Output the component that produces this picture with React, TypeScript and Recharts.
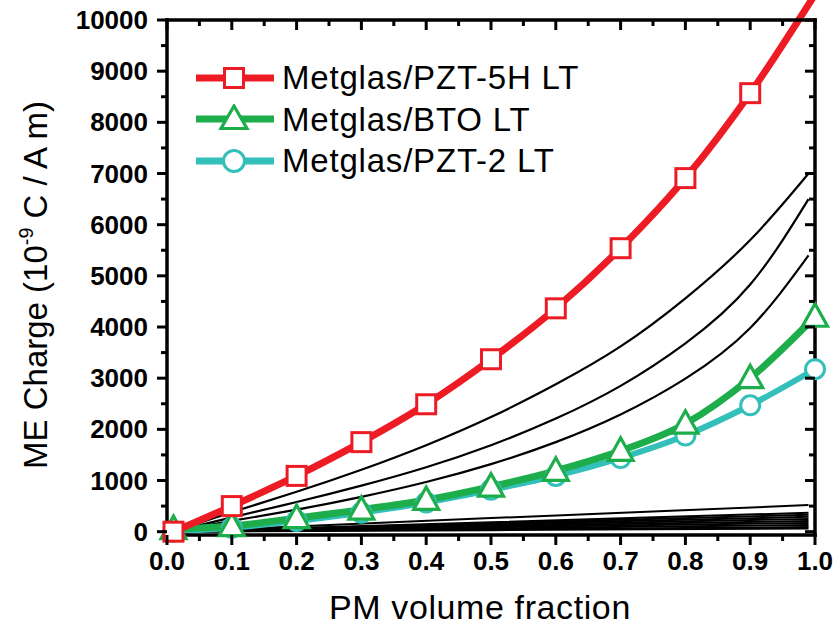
import React from "react";
import { LineChart, Line, XAxis, YAxis, Legend } from "recharts";

const FONT = "'Liberation Sans', Arial, sans-serif";
const RED = "#ED1C24";
const GREEN = "#1DAE4B";
const CYAN = "#33BFBA";

// marker positions (PM volume fraction)
const markerX = [0.01, 0.1, 0.2, 0.3, 0.4, 0.5, 0.6, 0.7, 0.8, 0.9, 1.0];
// last PZT-5H value runs off the top of the frame, no marker there
const pzt5hCharge = [0, 500, 1090, 1750, 2490, 3370, 4365, 5540, 6910, 8570, 10500];
const btoCharge = [50, 110, 265, 430, 620, 880, 1190, 1580, 2110, 3000, 4200];
const pzt2Charge = [0, 75, 210, 370, 570, 820, 1090, 1440, 1880, 2470, 3175];

// thin black curves
const curveX = [0.01, 0.1, 0.2, 0.3, 0.4, 0.5, 0.6, 0.7, 0.8, 0.9, 0.99];
const upperCurves = [
  [0, 380, 780, 1210, 1690, 2240, 2880, 3620, 4560, 5700, 7000],
  [0, 280, 580, 900, 1260, 1690, 2210, 2850, 3680, 4830, 6500],
  [0, 210, 430, 680, 970, 1320, 1750, 2290, 2990, 3980, 5400],
];
const bundleX = [0.01, 0.5, 0.99];
const lowerCurves = [
  [0, 265, 520],
  [0, 185, 370],
  [0, 165, 330],
  [0, 145, 290],
  [0, 125, 250],
  [0, 105, 210],
  [0, 85, 170],
  [0, 65, 130],
  [0, 45, 90],
  [0, 30, 60],
];

const xMajor = [0, 0.1, 0.2, 0.3, 0.4, 0.5, 0.6, 0.7, 0.8, 0.9, 1.0];
const xMinor = [0.05, 0.15, 0.25, 0.35, 0.45, 0.55, 0.65, 0.75, 0.85, 0.95];
const yMajor = [0, 1000, 2000, 3000, 4000, 5000, 6000, 7000, 8000, 9000, 10000];
const yMinor = [500, 1500, 2500, 3500, 4500, 5500, 6500, 7500, 8500, 9500];

const legendItems = [
  { name: "Metglas/PZT-5H LT", color: RED, shape: "square" },
  { name: "Metglas/BTO LT", color: GREEN, shape: "triangle" },
  { name: "Metglas/PZT-2 LT", color: CYAN, shape: "circle" },
];

const toPoints = (xs: number[], ys: number[]) => xs.map((x, i) => ({ x, y: ys[i] }));
const xTicks = [...xMajor, ...xMinor].sort((a, b) => a - b);
const yTicks = [...yMajor, ...yMinor].sort((a, b) => a - b);
const isMajor = (v: number, list: number[]) => list.some((m) => Math.abs(m - v) < 1e-6);

function Marker({ shape, color, cx, cy, big }: any) {
  if (shape === "square") {
    const s = 9.5;
    return <rect x={cx - s} y={cy - s} width={2 * s} height={2 * s} fill="#fff" stroke={color} strokeWidth={3} />;
  }
  if (shape === "triangle") {
    const w = big ? 13 : 12.5;
    const d = `M${cx},${cy - 13} L${cx + w},${cy + 9.5} L${cx - w},${cy + 9.5} Z`;
    return <path d={d} fill="#fff" stroke={color} strokeWidth={3.2} strokeLinejoin="miter" />;
  }
  return <circle cx={cx} cy={cy} r={big ? 10.5 : 9.5} fill="#fff" stroke={color} strokeWidth={3} />;
}

const makeDot = (shape: string, color: string) => (p: any) => {
  const { cx, cy, index, payload } = p;
  if (cx == null || cy == null || (shape === "square" && payload.x > 0.95)) return <g key={`d-${shape}-${index}`} />;
  return (
    <g key={`d-${shape}-${index}`}>
      <Marker shape={shape} color={color} cx={cx} cy={cy} />
    </g>
  );
};

function BottomTick(p: any) {
  const { x, y, payload } = p;
  const major = isMajor(payload.value, xMajor);
  return (
    <g>
      <line x1={x} x2={x} y1={y} y2={y + (major ? 10 : 6)} stroke="#000" strokeWidth={3} />
      {major && (
        <text x={x} y={y + 35} textAnchor="middle" fontSize={26} fontWeight="bold" fontFamily={FONT} fill="#000">
          {payload.value.toFixed(1)}
        </text>
      )}
    </g>
  );
}

function TopTick(p: any) {
  const { x, y, payload } = p;
  const major = isMajor(payload.value, xMajor);
  return <line x1={x} x2={x} y1={y} y2={y + (major ? 10 : 6)} stroke="#000" strokeWidth={3} />;
}

function LeftTick(p: any) {
  const { x, y, payload } = p;
  const major = isMajor(payload.value, yMajor);
  return (
    <g>
      <line x1={x - (major ? 10 : 6)} x2={x} y1={y} y2={y} stroke="#000" strokeWidth={3} />
      {major && (
        <text x={x - 19} y={y + 9} textAnchor="end" fontSize={26} fontWeight="bold" fontFamily={FONT} fill="#000">
          {payload.value}
        </text>
      )}
    </g>
  );
}

function RightTick(p: any) {
  const { x, y, payload } = p;
  const major = isMajor(payload.value, yMajor);
  return <line x1={x - (major ? 10 : 6)} x2={x} y1={y} y2={y} stroke="#000" strokeWidth={3} />;
}

function LegendBox() {
  return (
    <div style={{ fontFamily: FONT }}>
      {legendItems.map((it) => (
        <div key={it.name} style={{ display: "flex", alignItems: "center", height: 41.5 }}>
          <svg width={78} height={30} style={{ display: "block" }}>
            <line x1={0} x2={78} y1={15} y2={15} stroke={it.color} strokeWidth={7} />
            <Marker shape={it.shape} color={it.color} cx={38} cy={15} big />
          </svg>
          <span style={{ marginLeft: 8, fontSize: 33, letterSpacing: 0.8, lineHeight: 1, color: "#000", whiteSpace: "nowrap" }}>
            {it.name}
          </span>
        </div>
      ))}
    </div>
  );
}

const axisLine = { stroke: "#000", strokeWidth: 3.5, strokeLinecap: "square" as const };

export default function App() {
  return (
    <div className="me-chart" style={{ position: "absolute", left: 0, top: 0, width: 833, height: 629, background: "#fff" }}>
      <style>{".me-chart [clip-path] { clip-path: none !important; }"}</style>
      <LineChart width={833} height={629} margin={{ top: 19, right: 17, bottom: 93, left: 166 }}>
        <XAxis
          type="number"
          dataKey="x"
          domain={[0, 1]}
          allowDataOverflow
          ticks={xTicks}
          interval={0}
          height={1}
          tickSize={0}
          tickMargin={0}
          axisLine={axisLine}
          tick={<BottomTick />}
        />
        <XAxis
          xAxisId="top"
          orientation="top"
          type="number"
          dataKey="x"
          domain={[0, 1]}
          allowDataOverflow
          ticks={xTicks}
          interval={0}
          height={1}
          tickSize={0}
          tickMargin={0}
          axisLine={axisLine}
          tick={<TopTick />}
        />
        <YAxis
          type="number"
          domain={[-65, 10000]}
          allowDataOverflow
          ticks={yTicks}
          interval={0}
          width={1}
          tickSize={0}
          tickMargin={0}
          axisLine={axisLine}
          tick={<LeftTick />}
        />
        <YAxis
          yAxisId="right"
          orientation="right"
          type="number"
          domain={[-65, 10000]}
          allowDataOverflow
          ticks={yTicks}
          interval={0}
          width={1}
          tickSize={0}
          tickMargin={0}
          axisLine={axisLine}
          tick={<RightTick />}
        />
        <Legend
          layout="vertical"
          align="center"
          verticalAlign="middle"
          wrapperStyle={{ left: 196, top: 57, width: 460 }}
          content={() => <LegendBox />}
        />
        {upperCurves.map((ys, i) => (
          <Line
            key={`up-${i}`}
            data={toPoints(curveX, ys)}
            dataKey="y"
            type="natural"
            stroke="#000"
            strokeWidth={2.2}
            dot={false}
            activeDot={false}
            legendType="none"
            isAnimationActive={false}
          />
        ))}
        {lowerCurves.map((ys, i) => (
          <Line
            key={`low-${i}`}
            data={toPoints(bundleX, ys)}
            dataKey="y"
            type="natural"
            stroke="#000"
            strokeWidth={2}
            dot={false}
            activeDot={false}
            legendType="none"
            isAnimationActive={false}
          />
        ))}
        <Line
          data={toPoints(markerX, pzt2Charge)}
          dataKey="y"
          name="Metglas/PZT-2 LT"
          type="monotone"
          stroke={CYAN}
          strokeWidth={6}
          dot={makeDot("circle", CYAN)}
          activeDot={false}
          isAnimationActive={false}
        />
        <Line
          data={toPoints(markerX, btoCharge)}
          dataKey="y"
          name="Metglas/BTO LT"
          type="monotone"
          stroke={GREEN}
          strokeWidth={7}
          dot={makeDot("triangle", GREEN)}
          activeDot={false}
          isAnimationActive={false}
        />
        <Line
          data={toPoints(markerX, pzt5hCharge)}
          dataKey="y"
          name="Metglas/PZT-5H LT"
          type="monotone"
          stroke={RED}
          strokeWidth={7}
          dot={makeDot("square", RED)}
          activeDot={false}
          isAnimationActive={false}
        />
      </LineChart>
      <div
        style={{
          position: "absolute",
          left: 180,
          top: 590,
          width: 600,
          textAlign: "center",
          fontFamily: FONT,
          fontSize: 34,
          letterSpacing: 0.6,
          lineHeight: 1,
          color: "#000",
          whiteSpace: "nowrap",
        }}
      >
        PM volume fraction
      </div>
      <div
        style={{
          position: "absolute",
          left: 35,
          top: 285,
          transform: "translate(-50%, -50%) rotate(-90deg)",
          fontFamily: FONT,
          fontSize: 33,
          lineHeight: 1,
          color: "#000",
          whiteSpace: "nowrap",
        }}
      >
        ME Charge (10<sup style={{ fontSize: "0.6em", verticalAlign: "0.7em", lineHeight: 0 }}>-9</sup> C / A m)
      </div>
    </div>
  );
}
